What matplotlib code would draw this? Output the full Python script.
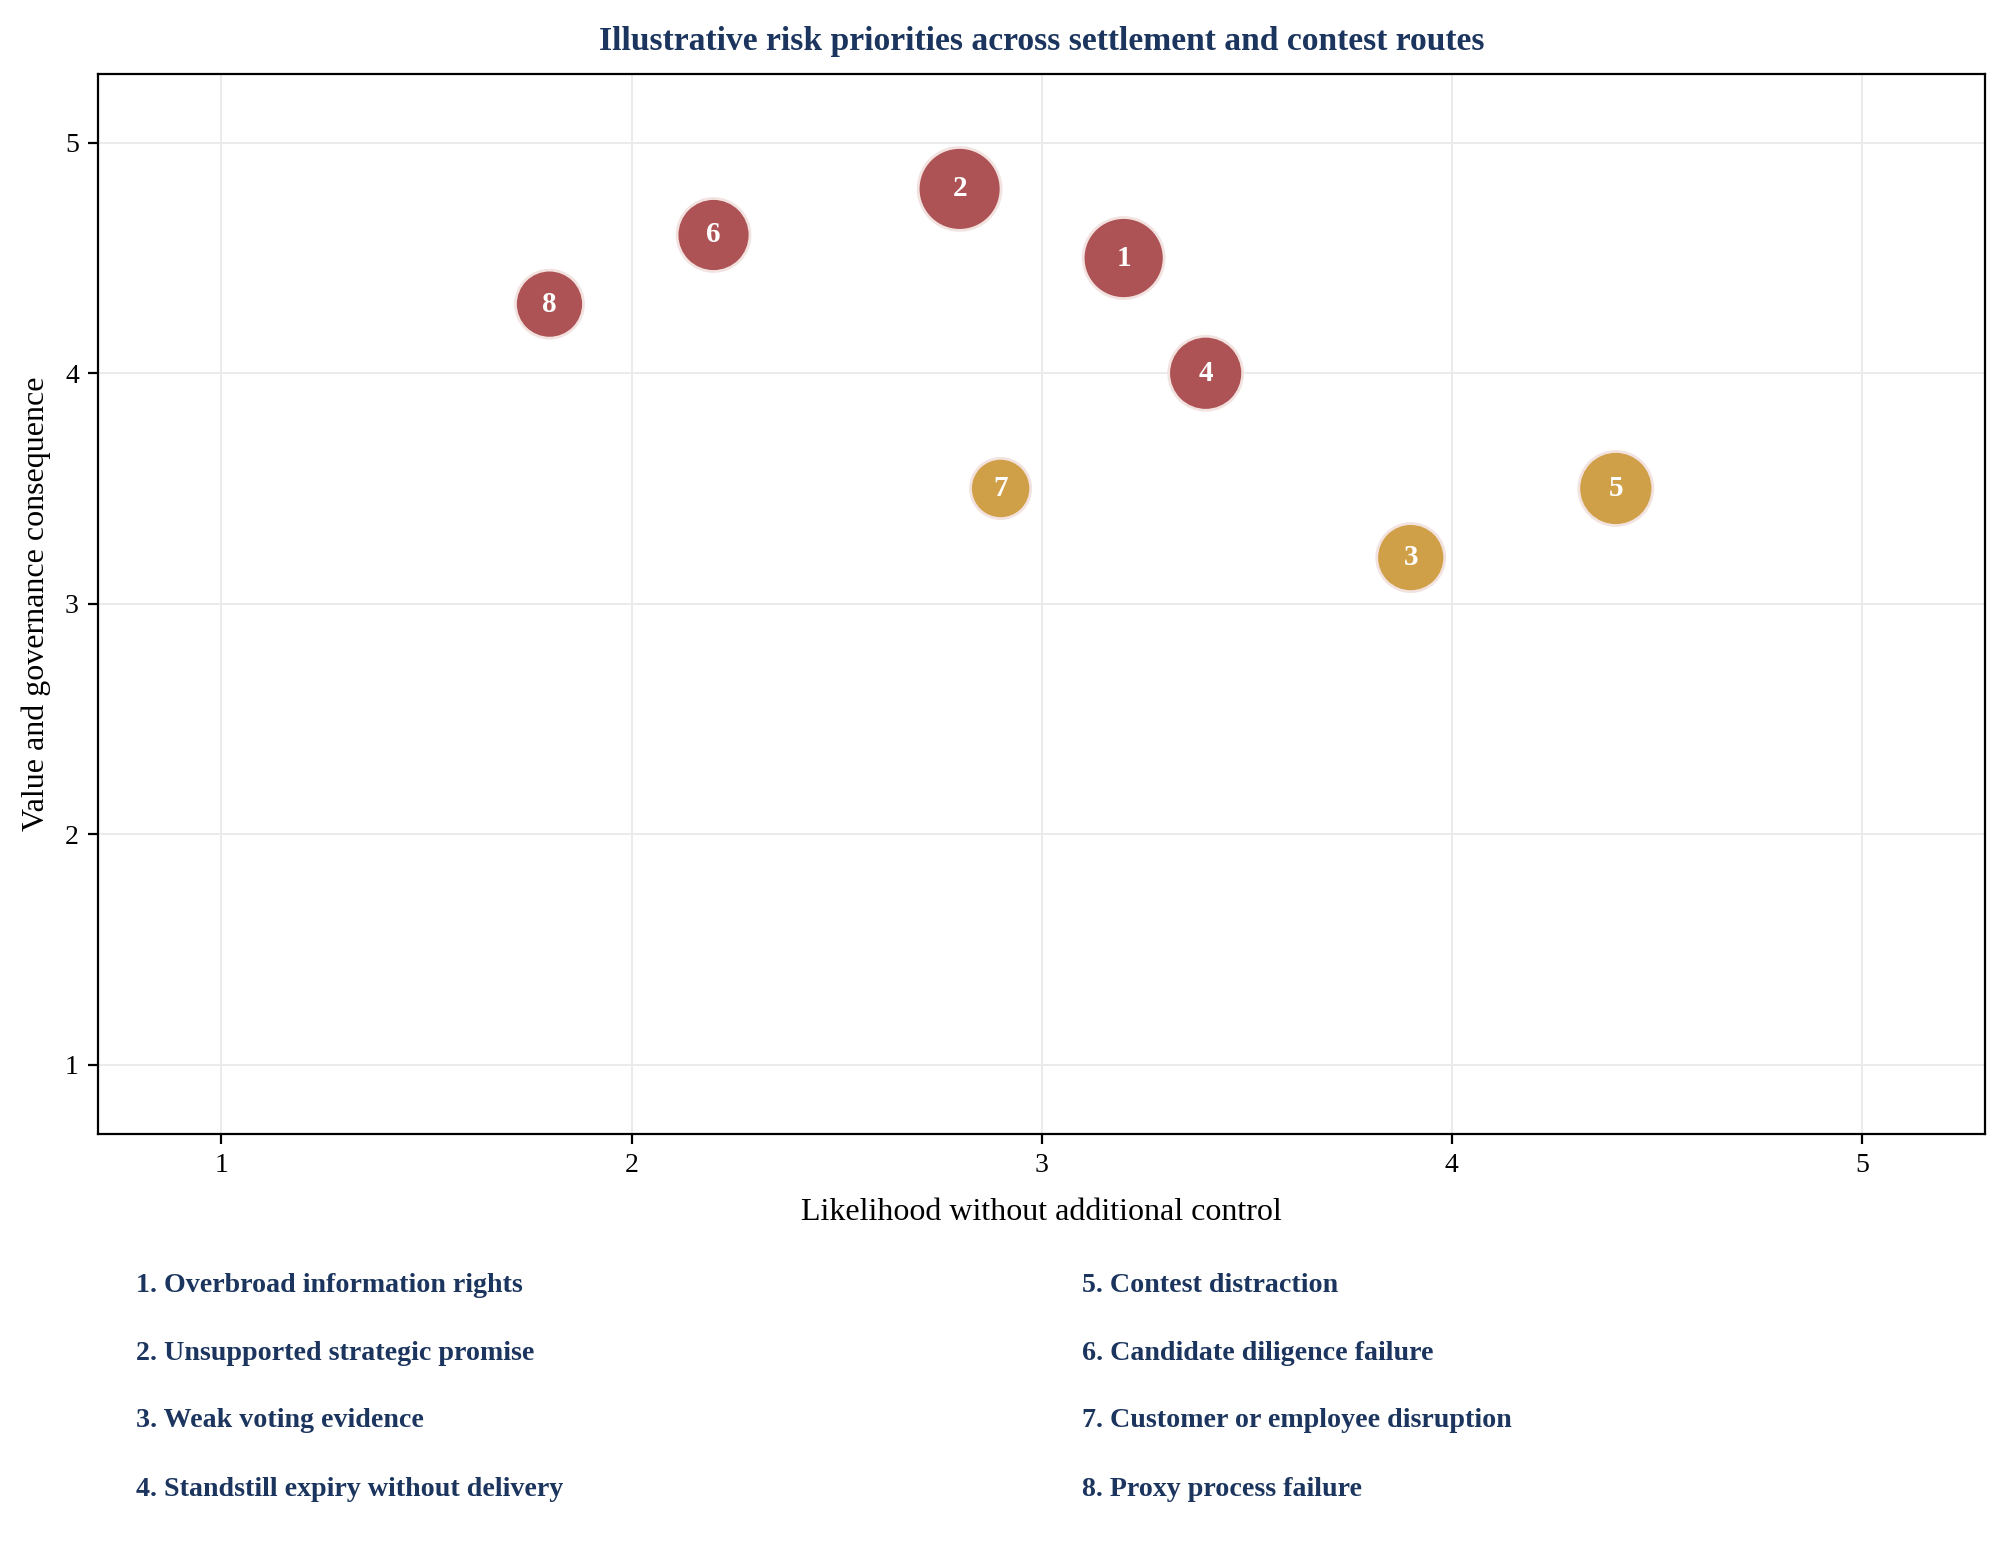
import matplotlib
matplotlib.use("Agg")
import matplotlib.pyplot as plt

plt.rcParams['font.family'] = ['Liberation Serif', 'DejaVu Serif']

risk_ids = [1, 2, 3, 4, 5, 6, 7, 8]
risk_names = [
    "Overbroad information rights",
    "Unsupported strategic promise",
    "Weak voting evidence",
    "Standstill expiry without delivery",
    "Contest distraction",
    "Candidate diligence failure",
    "Customer or employee disruption",
    "Proxy process failure",
]
likelihood = [3.2, 2.8, 3.9, 3.4, 4.4, 2.2, 2.9, 1.8]
consequence = [4.5, 4.8, 3.2, 4.0, 3.5, 4.6, 3.5, 4.3]
weight = [8.5, 8.9, 6.0, 7.1, 7.1, 6.9, 4.7, 6.0]
route = ["settlement", "settlement", "contest", "settlement", "contest", "settlement", "contest", "settlement"]

colors = {"settlement": "#ad5355", "contest": "#d0a048"}
navy = "#1b355e"

fig = plt.figure(figsize=(10.035, 7.84), dpi=200)
ax = fig.add_axes([0.049, 0.277, 0.940, 0.676])

ax.scatter(likelihood, consequence, s=[w * 100 for w in weight],
           c=[colors[r] for r in route], edgecolors="#f3e3e0", linewidths=1.0,
           zorder=3)
for i, x, y in zip(risk_ids, likelihood, consequence):
    ax.text(x, y, str(i), ha="center", va="center", color="white",
            fontsize=10.5, fontweight="bold", zorder=4)

ax.set_xlim(0.7, 5.3)
ax.set_ylim(0.7, 5.3)
ax.set_xticks([1, 2, 3, 4, 5])
ax.set_yticks([1, 2, 3, 4, 5])
ax.grid(True, color="#ebebeb", linewidth=0.7, zorder=0)
ax.set_axisbelow(True)
ax.tick_params(labelsize=10)
ax.set_xlabel("Likelihood without additional control", fontsize=11.5, labelpad=7)
ax.set_ylabel("Value and governance consequence", fontsize=11.5, labelpad=5)
ax.set_title("Illustrative risk priorities across settlement and contest routes",
             fontsize=12.1, fontweight="bold", color=navy, pad=8.5)

row_y = [0.180, 0.137, 0.094, 0.050]
col_x = [0.068, 0.539]
for k, (i, name) in enumerate(zip(risk_ids, risk_names)):
    fig.text(col_x[k // 4], row_y[k % 4], f"{i}. {name}", ha="left", va="center",
             fontsize=10.1, fontweight="bold", color=navy)

fig.savefig("out.png", dpi=200)
